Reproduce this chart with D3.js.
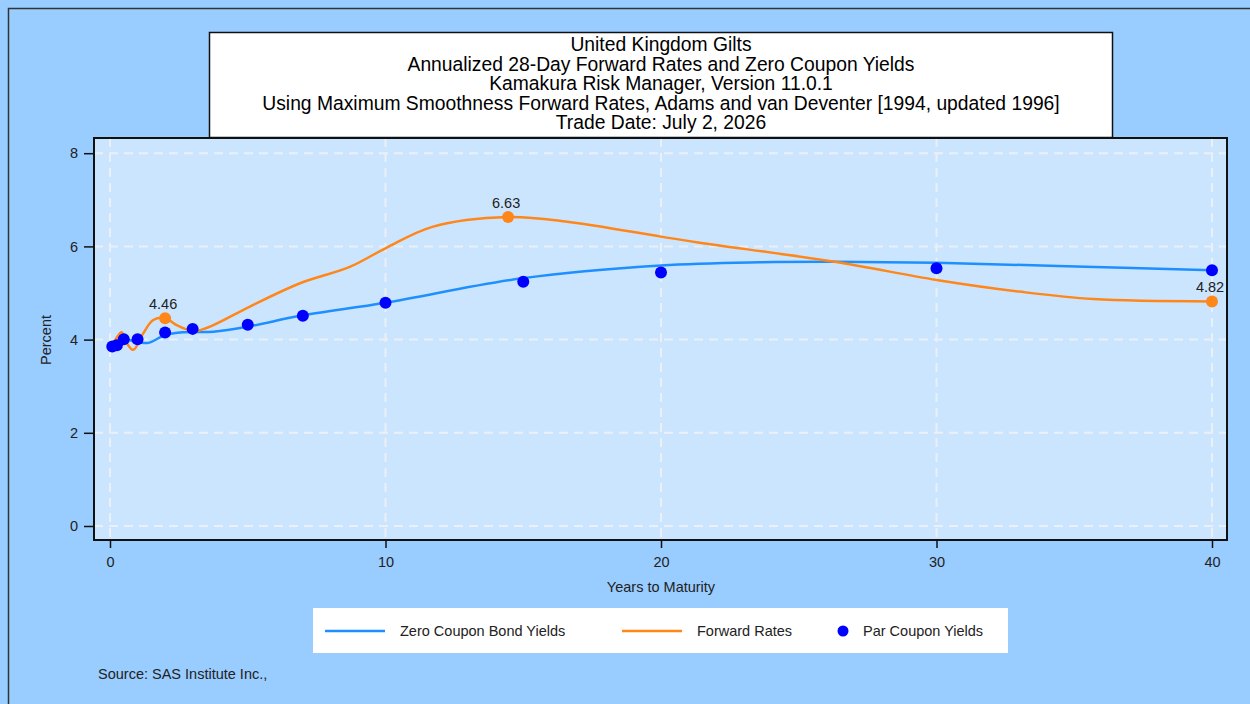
<!DOCTYPE html>
<html>
<head>
<meta charset="utf-8">
<script src="https://cdn.jsdelivr.net/npm/d3@7"></script>
<style>
  body { margin: 0; background: #99ccff; }
  text { font-family: "Liberation Sans", Arial, sans-serif; }
</style>
</head>
<body>
<svg id="chart" width="1250" height="704"></svg>
<script>
// title lines
var title_lines = [
  "United Kingdom Gilts",
  "Annualized 28-Day Forward Rates and Zero Coupon Yields",
  "Kamakura Risk Manager, Version 11.0.1",
  "Using Maximum Smoothness Forward Rates, Adams and van Deventer [1994, updated 1996]",
  "Trade Date: July 2, 2026"
];

// zero coupon curve (years, percent)
var zero_years = [0, 0.08, 0.25, 0.5, 1.0, 1.4, 2.0, 2.7, 3.75, 5.1, 6.9, 10, 14.9, 20, 23.6, 26.3, 30, 34.4, 40];
var zero_values = [3.85, 3.86, 3.92, 4.0, 3.95, 3.93, 4.10, 4.16, 4.17, 4.29, 4.51, 4.79, 5.31, 5.59, 5.66, 5.67, 5.65, 5.58, 5.49];

// forward rate curve (years, percent)
var fwd_years = [0, 0.2, 0.42, 0.66, 0.85, 1.21, 1.57, 2.0, 2.42, 2.78, 3.15, 3.75, 5.08, 6.9, 8.7, 10, 11.7, 14.45, 16.6, 20, 21.4, 26.3, 30, 33, 35.7, 40];
var fwd_values = [3.86, 4.0, 4.16, 3.88, 3.78, 4.14, 4.42, 4.46, 4.31, 4.22, 4.19, 4.31, 4.71, 5.21, 5.56, 5.96, 6.42, 6.63, 6.53, 6.21, 6.08, 5.67, 5.28, 5.03, 4.87, 4.82];

// labelled forward rate points
var fwd_label_years = [2.0, 14.45, 40];
var fwd_label_values = [4.46, 6.63, 4.82];

// par coupon yields
var par_years = [0.083, 0.25, 0.5, 1, 2, 3, 5, 7, 10, 15, 20, 30, 40];
var par_values = [3.85, 3.88, 4.01, 4.01, 4.15, 4.23, 4.32, 4.51, 4.79, 5.24, 5.44, 5.53, 5.49];

var x_ticks = [0, 10, 20, 30, 40];
var y_ticks = [0, 2, 4, 6, 8];

var legend_items = ["Zero Coupon Bond Yields", "Forward Rates", "Par Coupon Yields"];

var colors = {
  "page": "#99ccff",
  "plot": "#cce5ff",
  "zero": "#1e8fff",
  "fwd": "#ff8619",
  "par": "#0000ff",
  "grid": "#eef2f6",
  "text": "#222"
};

var svg = d3.select("#chart");

// outer frame
svg.append("rect")
  .attr("x", 8.5).attr("y", 8.5)
  .attr("width", 1260).attr("height", 720)
  .attr("fill", colors.page)
  .attr("stroke", "#333")
  .attr("stroke-width", 1.5);

var plot = { left: 94, top: 138, right: 1227, bottom: 540 };

var x = d3.scaleLinear().domain([0, 40]).range([110, 1212]);
var y = d3.scaleLinear().domain([0, 8]).range([526, 153.2]);

// plot background
svg.append("rect")
  .attr("x", plot.left).attr("y", plot.top)
  .attr("width", plot.right - plot.left).attr("height", plot.bottom - plot.top)
  .attr("fill", colors.plot);

// grid
var grid = svg.append("g")
  .attr("stroke", colors.grid)
  .attr("stroke-width", 2)
  .attr("stroke-dasharray", "9,6")
  .attr("opacity", 0.9);
grid.selectAll(".gx").data(x_ticks).enter().append("line")
  .attr("x1", d => x(d)).attr("x2", d => x(d))
  .attr("y1", plot.top).attr("y2", plot.bottom);
grid.selectAll(".gy").data(y_ticks).enter().append("line")
  .attr("x1", plot.left).attr("x2", plot.right)
  .attr("y1", d => y(d)).attr("y2", d => y(d));

// plot frame
svg.append("rect")
  .attr("x", plot.left).attr("y", plot.top)
  .attr("width", plot.right - plot.left).attr("height", plot.bottom - plot.top)
  .attr("fill", "none")
  .attr("stroke", "#111")
  .attr("stroke-width", 2);

// axes
var xAxis = svg.append("g")
  .attr("transform", "translate(0," + plot.bottom + ")")
  .call(d3.axisBottom(x).tickValues(x_ticks).tickSize(8).tickPadding(9));
var yAxis = svg.append("g")
  .attr("transform", "translate(" + plot.left + ",0)")
  .call(d3.axisLeft(y).tickValues(y_ticks).tickSize(10).tickPadding(6));
[xAxis, yAxis].forEach(function(a) {
  a.select(".domain").remove();
  a.selectAll(".tick line").attr("stroke", "#111").attr("stroke-width", 1.5);
  a.selectAll(".tick text")
    .attr("fill", colors.text)
    .style("font-size", "14.5px")
    .style("font-family", "Liberation Sans, Arial, sans-serif");
});

svg.append("text")
  .attr("transform", "translate(51,340) rotate(-90)")
  .attr("text-anchor", "middle")
  .attr("fill", colors.text)
  .style("font-size", "14.5px")
  .text("Percent");

svg.append("text")
  .attr("x", 661).attr("y", 592)
  .attr("text-anchor", "middle")
  .attr("fill", colors.text)
  .style("font-size", "14.5px")
  .text("Years to Maturity");

// curves
var line = d3.line()
  .x(d => x(d[0]))
  .y(d => y(d[1]))
  .curve(d3.curveCatmullRom.alpha(0.5));

svg.append("path")
  .datum(d3.zip(zero_years, zero_values))
  .attr("d", line)
  .attr("fill", "none")
  .attr("stroke", colors.zero)
  .attr("stroke-width", 2.5);

svg.append("path")
  .datum(d3.zip(fwd_years, fwd_values))
  .attr("d", line)
  .attr("fill", "none")
  .attr("stroke", colors.fwd)
  .attr("stroke-width", 2.5);

// par coupon dots
svg.selectAll(".par").data(d3.zip(par_years, par_values)).enter().append("circle")
  .attr("cx", d => x(d[0]))
  .attr("cy", d => y(d[1]))
  .attr("r", 6)
  .attr("fill", colors.par);

// labelled forward points
var fl = d3.zip(fwd_label_years, fwd_label_values);
svg.selectAll(".fdot").data(fl).enter().append("circle")
  .attr("cx", d => x(d[0]))
  .attr("cy", d => y(d[1]))
  .attr("r", 6)
  .attr("fill", colors.fwd);
svg.selectAll(".flab").data(fl).enter().append("text")
  .attr("x", d => x(d[0]) - 2)
  .attr("y", d => y(d[1]) - 9)
  .attr("text-anchor", "middle")
  .attr("fill", colors.text)
  .style("font-size", "14.5px")
  .text(d => d[1].toFixed(2));

// title box
svg.append("rect")
  .attr("x", 209.5).attr("y", 32.5)
  .attr("width", 903).attr("height", 105)
  .attr("fill", "#fff")
  .attr("stroke", "#111")
  .attr("stroke-width", 1.5);
svg.selectAll(".title").data(title_lines).enter().append("text")
  .attr("x", 661)
  .attr("y", (d, i) => 51 + i * 19.5)
  .attr("text-anchor", "middle")
  .attr("fill", "#000")
  .style("font-size", "19.3px")
  .text(d => d);

// legend
svg.append("rect")
  .attr("x", 313).attr("y", 608)
  .attr("width", 695).attr("height", 45)
  .attr("fill", "#fff");
var lx = [325, 622, 843];
var tx = [400, 697, 863];
svg.append("line").attr("x1", lx[0]).attr("x2", lx[0] + 60).attr("y1", 631).attr("y2", 631)
  .attr("stroke", colors.zero).attr("stroke-width", 2.5);
svg.append("line").attr("x1", lx[1]).attr("x2", lx[1] + 60).attr("y1", 631).attr("y2", 631)
  .attr("stroke", colors.fwd).attr("stroke-width", 2.5);
svg.append("circle").attr("cx", lx[2]).attr("cy", 631).attr("r", 5.5).attr("fill", colors.par);
svg.selectAll(".leg").data(legend_items).enter().append("text")
  .attr("x", (d, i) => tx[i])
  .attr("y", 636)
  .attr("fill", colors.text)
  .style("font-size", "14.5px")
  .text(d => d);

svg.append("text")
  .attr("x", 98).attr("y", 679)
  .attr("fill", colors.text)
  .style("font-size", "14.5px")
  .text("Source: SAS Institute Inc.,");
</script>
</body>
</html>
